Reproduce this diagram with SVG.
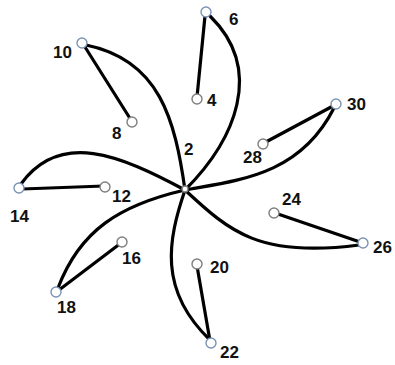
<svg xmlns="http://www.w3.org/2000/svg" width="395" height="365" viewBox="0 0 395 365">
<style>
.c{fill:none;stroke:#000;stroke-width:3.2;stroke-linecap:round}
.o{fill:#fff;stroke:#7b93b3;stroke-width:1.4}
.i{fill:#fff;stroke:#7f7f7f;stroke-width:1.4}
text{font-family:"Liberation Sans",Arial,sans-serif;font-weight:bold;font-size:17px;fill:#111}
</style>
<rect width="395" height="365" fill="#fff"/>
<g id="connectors">
<path class="c" d="M185,190 C235,140 265,70 210,16"/>
<path class="c" d="M185,190 C175,120 160,60 86,45"/>
<path class="c" d="M185,190 C240,180 300,175 334,108"/>
<path class="c" d="M185,190 C230,232 260,258 359,245"/>
<path class="c" d="M185,190 C120,155 60,130 21,184"/>
<path class="c" d="M185,190 C120,205 80,230 58,288"/>
<path class="c" d="M185,190 C168,240 158,290 210,340"/>
<path class="c" d="M197,97 L205,16"/>
<path class="c" d="M131,120 L85,47"/>
<path class="c" d="M264,143 L333,106"/>
<path class="c" d="M104,186 L22,189"/>
<path class="c" d="M275,213 L360,242"/>
<path class="c" d="M121,243 L59,290"/>
<path class="c" d="M197,266 L210,341"/>
</g>
<g id="n2"><circle class="i" cx="185" cy="189" r="3"/><text x="184" y="155">2</text></g>
<g id="n4"><circle class="i" cx="197" cy="99" r="5"/><text x="207" y="106">4</text></g>
<g id="n6"><circle class="o" cx="206" cy="12" r="5"/><text x="229" y="25">6</text></g>
<g id="n8"><circle class="i" cx="132" cy="122" r="5"/><text x="112" y="139">8</text></g>
<g id="n10"><circle class="o" cx="82" cy="43" r="5"/><text x="53" y="58">10</text></g>
<g id="n12"><circle class="i" cx="105" cy="187" r="5"/><text x="112" y="202">12</text></g>
<g id="n14"><circle class="o" cx="19" cy="188" r="5"/><text x="10" y="222">14</text></g>
<g id="n16"><circle class="i" cx="122" cy="242" r="5"/><text x="122" y="264">16</text></g>
<g id="n18"><circle class="o" cx="56" cy="292" r="5"/><text x="57" y="313">18</text></g>
<g id="n20"><circle class="i" cx="197" cy="264" r="5"/><text x="210" y="273">20</text></g>
<g id="n22"><circle class="o" cx="211" cy="343" r="5"/><text x="220" y="358">22</text></g>
<g id="n24"><circle class="i" cx="274" cy="213" r="5"/><text x="282" y="205">24</text></g>
<g id="n26"><circle class="o" cx="363" cy="243" r="5"/><text x="373" y="253">26</text></g>
<g id="n28"><circle class="i" cx="263" cy="144" r="5"/><text x="243" y="163">28</text></g>
<g id="n30"><circle class="o" cx="336" cy="104" r="5"/><text x="347" y="110">30</text></g>
</svg>
